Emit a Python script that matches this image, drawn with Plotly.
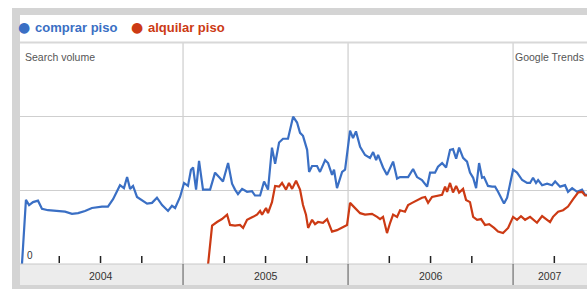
import plotly.graph_objects as go

# ---------------- data (decimal year, search volume index) ----------------
comprar_t = [2004.024, 2004.048, 2004.067, 2004.091, 2004.121, 2004.145, 2004.182, 2004.242, 2004.285,
             2004.327, 2004.364, 2004.406, 2004.448, 2004.509, 2004.545, 2004.576, 2004.618, 2004.642,
             2004.661, 2004.679, 2004.697, 2004.721, 2004.752, 2004.782, 2004.812, 2004.842, 2004.873,
             2004.909, 2004.933, 2004.952, 2004.982, 2005.006, 2005.030, 2005.048, 2005.061, 2005.079,
             2005.097, 2005.121, 2005.164, 2005.194, 2005.218, 2005.242, 2005.273, 2005.297, 2005.315,
             2005.333, 2005.358, 2005.388, 2005.418, 2005.436, 2005.467, 2005.491, 2005.515, 2005.539,
             2005.558, 2005.582, 2005.606, 2005.636, 2005.667, 2005.691, 2005.709, 2005.727, 2005.752,
             2005.764, 2005.782, 2005.812, 2005.830, 2005.861, 2005.879, 2005.903, 2005.915, 2005.933,
             2005.964, 2005.982, 2006.012, 2006.030, 2006.048, 2006.073, 2006.103, 2006.133, 2006.152,
             2006.170, 2006.182, 2006.212, 2006.236, 2006.255, 2006.273, 2006.297, 2006.315, 2006.345,
             2006.364, 2006.394, 2006.418, 2006.448, 2006.479, 2006.497, 2006.527, 2006.545, 2006.570,
             2006.594, 2006.618, 2006.636, 2006.655, 2006.673, 2006.697, 2006.721, 2006.739, 2006.758,
             2006.776, 2006.794, 2006.812, 2006.824, 2006.848, 2006.873, 2006.891, 2006.909, 2006.933,
             2006.945, 2006.964, 2006.982, 2007.000, 2007.024, 2007.055, 2007.085, 2007.103, 2007.121,
             2007.139, 2007.152, 2007.176, 2007.206, 2007.236, 2007.255, 2007.285, 2007.315, 2007.333,
             2007.358, 2007.388, 2007.418, 2007.436, 2007.448]
comprar_v = [0.00, 0.87, 0.80, 0.84, 0.86, 0.75, 0.73, 0.72, 0.71,
             0.68, 0.69, 0.72, 0.76, 0.78, 0.78, 0.88, 1.07, 1.03,
             1.18, 1.02, 1.06, 0.91, 0.87, 0.82, 0.83, 0.90, 0.80,
             0.72, 0.79, 0.76, 0.91, 1.10, 1.06, 1.28, 1.31, 1.01,
             1.40, 1.01, 1.01, 1.24, 1.18, 1.12, 1.37, 1.09, 1.01,
             0.95, 1.02, 0.98, 0.99, 0.93, 0.93, 1.12, 1.01, 1.58,
             1.36, 1.65, 1.70, 1.70, 2.00, 1.92, 1.78, 1.74, 1.55,
             1.25, 1.33, 1.33, 1.25, 1.41, 1.37, 1.21, 1.28, 1.03,
             1.25, 1.28, 1.81, 1.71, 1.80, 1.59, 1.48, 1.44, 1.52,
             1.41, 1.48, 1.31, 1.21, 1.31, 1.39, 1.16, 1.18, 1.18,
             1.18, 1.29, 1.18, 1.14, 1.05, 1.24, 1.24, 1.32, 1.37,
             1.31, 1.55, 1.56, 1.43, 1.58, 1.44, 1.39, 1.24, 1.17,
             1.03, 1.37, 1.17, 1.18, 1.06, 1.05, 1.05, 0.98, 0.87,
             0.82, 0.90, 1.10, 1.28, 1.24, 1.14, 1.10, 1.10, 1.17,
             1.10, 1.14, 1.07, 1.09, 1.07, 1.12, 1.05, 1.07, 0.98,
             1.03, 0.98, 1.01, 0.94, 0.94]

alquilar_t = [2005.152, 2005.176, 2005.206, 2005.236, 2005.267, 2005.285, 2005.315, 2005.345, 2005.364,
              2005.388, 2005.424, 2005.448, 2005.467, 2005.479, 2005.503, 2005.515, 2005.539, 2005.558,
              2005.582, 2005.600, 2005.624, 2005.642, 2005.661, 2005.685, 2005.709, 2005.727, 2005.745,
              2005.758, 2005.782, 2005.800, 2005.818, 2005.848, 2005.873, 2005.903, 2005.933, 2005.964,
              2005.994, 2006.012, 2006.042, 2006.073, 2006.103, 2006.145, 2006.176, 2006.194, 2006.212,
              2006.236, 2006.255, 2006.273, 2006.297, 2006.315, 2006.345, 2006.364, 2006.388, 2006.418,
              2006.448, 2006.467, 2006.485, 2006.509, 2006.539, 2006.570, 2006.588, 2006.600, 2006.618,
              2006.636, 2006.655, 2006.673, 2006.697, 2006.715, 2006.739, 2006.758, 2006.782, 2006.806,
              2006.830, 2006.855, 2006.885, 2006.909, 2006.939, 2006.970, 2007.000, 2007.024, 2007.048,
              2007.073, 2007.103, 2007.121, 2007.145, 2007.176, 2007.200, 2007.224, 2007.242, 2007.273,
              2007.303, 2007.333, 2007.364, 2007.394, 2007.418, 2007.436, 2007.448]
alquilar_v = [0.00, 0.52, 0.57, 0.61, 0.67, 0.53, 0.52, 0.53, 0.49,
              0.60, 0.64, 0.67, 0.72, 0.67, 0.76, 0.69, 0.84, 1.06,
              1.05, 1.10, 1.01, 1.10, 1.02, 1.13, 1.01, 0.80, 0.67,
              0.49, 0.60, 0.54, 0.57, 0.56, 0.61, 0.44, 0.46, 0.49,
              0.53, 0.83, 0.76, 0.69, 0.67, 0.68, 0.64, 0.61, 0.64,
              0.42, 0.56, 0.67, 0.64, 0.73, 0.71, 0.80, 0.83, 0.87,
              0.90, 0.91, 0.83, 0.91, 0.93, 0.94, 1.05, 0.98, 1.10,
              0.97, 1.06, 0.97, 1.02, 0.87, 0.84, 0.64, 0.60, 0.61,
              0.53, 0.54, 0.49, 0.44, 0.42, 0.49, 0.64, 0.60, 0.65,
              0.60, 0.64, 0.60, 0.56, 0.65, 0.61, 0.57, 0.64, 0.71,
              0.73, 0.78, 0.88, 0.97, 0.98, 0.93, 0.93]

series_names = ["comprar piso", "alquilar piso"]
year_labels = ["2004", "2005", "2006", "2007"]
year_label_pos = [2004.5, 2005.5, 2006.5, 2007.224]
year_bounds = [2005, 2006, 2007]
quarter_ticks = [2004.25, 2004.5, 2004.75, 2005.25, 2005.5, 2005.75,
                 2006.25, 2006.5, 2006.75, 2007.25]
grid_vals = [1, 2]
x_range = [2004.012, 2007.448]
y_range = [0, 3]

# ---------------- styling / layout ----------------
W, H = 587, 289
L, R, T, B = 20, 0, 43, 25
PW, PH = W - L - R, H - T - B
BLUE = "#3a6fc4"
RED = "#cc3a14"
FONT = "Liberation Sans Narrow, Liberation Sans, Arial, sans-serif"


def px(xp):
    return (xp - L) / PW


def py(yp):
    return (H - B - yp) / PH


fig = go.Figure()
fig.add_trace(go.Scatter(x=comprar_t, y=comprar_v, mode="lines", name=series_names[0],
                         line=dict(color=BLUE, width=2.2), hoverinfo="x+y"))
fig.add_trace(go.Scatter(x=alquilar_t, y=alquilar_v, mode="lines", name=series_names[1],
                         line=dict(color=RED, width=2.2), hoverinfo="x+y"))

shapes = []
# frame: left gray strip, top gray band
shapes.append(dict(type="rect", xref="paper", yref="paper", x0=px(12), x1=px(20), y0=py(290), y1=py(8),
                   fillcolor="#d4d4d4", line=dict(width=0), layer="below"))
shapes.append(dict(type="rect", xref="paper", yref="paper", x0=px(12), x1=px(W + 2), y0=py(15), y1=py(8),
                   fillcolor="#d4d4d4", line=dict(width=0), layer="below"))
# separator under legend row
shapes.append(dict(type="line", xref="paper", yref="paper", x0=0, x1=1, y0=py(42.5), y1=py(42.5),
                   line=dict(color="#d8d8d8", width=2)))
# axis band
shapes.append(dict(type="rect", xref="paper", yref="paper", x0=0, x1=1.01, y0=py(285), y1=0,
                   fillcolor="#ececec", line=dict(width=0), layer="below"))
shapes.append(dict(type="rect", xref="paper", yref="paper", x0=px(12), x1=1.01, y0=py(290), y1=py(285),
                   fillcolor="#d4d4d4", line=dict(width=0), layer="below"))
shapes.append(dict(type="line", xref="paper", yref="paper", x0=0, x1=1, y0=0, y1=0,
                   line=dict(color="#c8c8c8", width=1)))
# year boundaries
for yb in year_bounds:
    shapes.append(dict(type="line", xref="x", yref="paper", x0=yb, x1=yb, y0=0, y1=py(43),
                       line=dict(color="#c4c4c4", width=1), layer="below"))
    shapes.append(dict(type="line", xref="x", yref="paper", x0=yb, x1=yb, y0=py(285), y1=0,
                       line=dict(color="#555555", width=1)))
# quarter ticks (short marks rising from the baseline)
for q in quarter_ticks:
    shapes.append(dict(type="line", xref="x", yref="paper", x0=q, x1=q, y0=py(263), y1=py(256),
                       line=dict(color="#222222", width=1.5), layer="above"))

annotations = []
# legend
annotations.append(dict(xref="paper", yref="paper", x=px(24), y=py(27), text="●", showarrow=False,
                        font=dict(color=BLUE, size=14, family="DejaVu Sans"), xanchor="center", yanchor="middle"))
annotations.append(dict(xref="paper", yref="paper", x=px(33), y=py(27), text="<b>%s</b>" % series_names[0],
                        showarrow=False, font=dict(color=BLUE, size=13, family=FONT),
                        xanchor="left", yanchor="middle"))
annotations.append(dict(xref="paper", yref="paper", x=px(137), y=py(27), text="●", showarrow=False,
                        font=dict(color=RED, size=14, family="DejaVu Sans"), xanchor="center", yanchor="middle"))
annotations.append(dict(xref="paper", yref="paper", x=px(146), y=py(27), text="<b>%s</b>" % series_names[1],
                        showarrow=False, font=dict(color=RED, size=13, family=FONT),
                        xanchor="left", yanchor="middle"))
# inner labels
annotations.append(dict(xref="paper", yref="paper", x=px(23), y=py(57), text="Search volume",
                        showarrow=False, font=dict(color="#555555", size=10.5, family=FONT),
                        xanchor="left", yanchor="middle"))
annotations.append(dict(xref="paper", yref="paper", x=px(586), y=py(57), text="Google Trends",
                        showarrow=False, font=dict(color="#555555", size=10.5, family=FONT),
                        xanchor="right", yanchor="middle"))
annotations.append(dict(xref="paper", yref="paper", x=px(25), y=py(255), text="0",
                        showarrow=False, font=dict(color="#333333", size=10, family=FONT),
                        xanchor="left", yanchor="middle"))
for lab, pos in zip(year_labels, year_label_pos):
    annotations.append(dict(xref="x", yref="paper", x=pos, y=py(276), text=lab, showarrow=False,
                            font=dict(color="#333333", size=10.5, family=FONT),
                            xanchor="center", yanchor="middle"))

fig.update_layout(
    width=W, height=H,
    margin=dict(l=L, r=R, t=T, b=B, pad=0),
    paper_bgcolor="white", plot_bgcolor="white",
    showlegend=False,
    shapes=shapes, annotations=annotations,
    xaxis=dict(range=x_range, showgrid=False, zeroline=False, showline=False,
               ticks="", showticklabels=False, fixedrange=True),
    yaxis=dict(range=y_range, tickvals=grid_vals, showgrid=True, gridcolor="#cfcfcf", gridwidth=1,
               zeroline=False, showline=False, showticklabels=False, ticks="", fixedrange=True),
)

fig.write_html("out.html", config={"displayModeBar": False},
               post_script="document.body.style.margin='0';document.body.style.overflow='hidden';")
